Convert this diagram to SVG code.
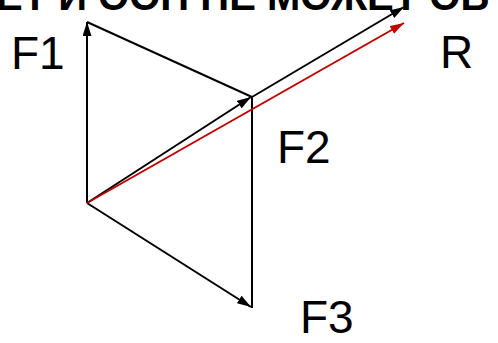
<svg xmlns="http://www.w3.org/2000/svg" width="498" height="343" viewBox="0 0 498 343">
<style>
.t{font-family:"Liberation Sans",Arial,sans-serif;font-size:46px;fill:#000}
.h{font-family:"Liberation Sans",Arial,sans-serif;font-size:40px;font-weight:bold;fill:#000}
.k{stroke:#000;stroke-width:2;fill:none}
.r{stroke:#c00000;stroke-width:2;fill:none}
</style>
<defs>
<marker id="ak" viewBox="0 0 14 9" refX="14" refY="4.5" markerWidth="14" markerHeight="9" markerUnits="userSpaceOnUse" orient="auto"><path d="M0,0L14,4.5L0,9z" fill="#000"/></marker>
<marker id="ar" viewBox="0 0 14 9" refX="14" refY="4.5" markerWidth="14" markerHeight="9" markerUnits="userSpaceOnUse" orient="auto"><path d="M0,0L14,4.5L0,9z" fill="#c00000"/></marker>
</defs>
<text class="h" x="-4" y="10">ЕТ И ООН НЕ МОЖЕТ ОБ</text>
<g id="connectors">
<line class="k" x1="87" y1="203" x2="87" y2="22" marker-end="url(#ak)"/>
<line class="k" x1="87" y1="22" x2="252" y2="97"/>
<line class="k" x1="87" y1="203" x2="251" y2="97" marker-end="url(#ak)"/>
<line class="k" x1="252" y1="97" x2="252" y2="308"/>
<line class="k" x1="87" y1="203" x2="251" y2="307" marker-end="url(#ak)"/>
<line class="k" x1="252" y1="97" x2="404" y2="7" marker-end="url(#ak)"/>
<line class="r" x1="87" y1="203" x2="404" y2="23" marker-end="url(#ar)"/>
</g>
<g id="F1"><text class="t" x="11" y="69">F1</text></g>
<g id="F2"><text class="t" x="277" y="163">F2</text></g>
<g id="F3"><text class="t" x="300" y="333">F3</text></g>
<g id="R"><text class="t" x="440" y="68">R</text></g>
</svg>
